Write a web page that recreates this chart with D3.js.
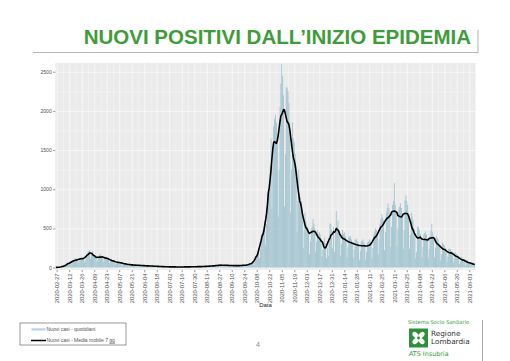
<!DOCTYPE html>
<meta charset="utf-8">
<style>
body { margin: 0; background: #fff; }
svg { display: block; font-family: "Liberation Sans", Arial, sans-serif; }
.panel { fill: #ebebeb; }
.grid .domain, .axis .domain { display: none; }
.grid--major line { stroke: #fff; stroke-width: .6; }
.grid--minor line { stroke: #fff; stroke-width: .3; }
.bar { fill: #9ac0cd; }
.ma { fill: none; stroke: #000; stroke-width: 1.6; stroke-linejoin: round; }
.axis text { fill: #4d4d4d; font-size: 5px; }
.axis line { stroke: #333; stroke-width: .5; }
.title { fill: #3f9c3a; font-size: 20.5px; font-weight: bold; }
.legend text { fill: #555; font-size: 5px; }
.logo text { font-family: "DejaVu Sans", sans-serif; }
</style>
<svg width="510" height="361"></svg>
<script src="https://d3js.org/d3.v7.min.js"></script>
<script>

// first day of the series (Wednesday 2020-02-26), one value per day
var startDate = new Date(Date.UTC(2020, 1, 26));

// daily new positives, one row per week (Wed..Tue)
var dailyCases = [
  0, 1, 3, 2, 1, 4, 6,
  10, 18, 22, 30, 12, 25, 40,
  55, 70, 78, 82, 35, 60, 85,
  105, 118, 110, 112, 55, 80, 120,
  125, 140, 130, 128, 62, 90, 135,
  175, 200, 215, 225, 110, 165, 210,
  175, 160, 150, 130, 70, 95, 140,
  160, 175, 150, 140, 70, 105, 150,
  135, 140, 120, 115, 55, 80, 115,
  100, 95, 85, 80, 40, 55, 85,
  75, 72, 65, 60, 30, 45, 68,
  55, 50, 45, 42, 20, 30, 48,
  40, 38, 35, 32, 15, 24, 38,
  34, 32, 30, 28, 12, 20, 33,
  28, 26, 25, 22, 10, 16, 28,
  22, 24, 20, 18, 8, 13, 22,
  18, 17, 15, 14, 6, 10, 17,
  13, 12, 11, 10, 4, 7, 12,
  10, 10, 9, 8, 3, 6, 10,
  9, 8, 8, 7, 3, 5, 9,
  8, 9, 8, 7, 3, 5, 9,
  10, 9, 9, 8, 4, 6, 10,
  12, 12, 11, 10, 5, 8, 12,
  15, 14, 13, 12, 6, 9, 15,
  19, 20, 18, 16, 7, 12, 20,
  26, 28, 25, 22, 10, 16, 27,
  36, 38, 34, 30, 14, 22, 36,
  33, 35, 32, 28, 13, 20, 34,
  28, 30, 27, 25, 11, 18, 29,
  28, 29, 27, 25, 11, 18, 30,
  34, 36, 33, 32, 14, 24, 40,
  48, 55, 62, 68, 30, 55, 100,
  130, 165, 200, 245, 120, 240, 420,
  430, 470, 520, 600, 280, 560, 950,
  900, 1050, 1300, 1650, 750, 1300, 1800,
  1900, 1950, 1850, 1700, 650, 1250, 2050,
  2350, 2600, 2450, 2200, 780, 1450, 2300,
  2300, 2250, 2100, 1850, 700, 1250, 1850,
  1650, 1600, 1450, 1300, 450, 850, 1250,
  950, 900, 850, 700, 250, 480, 700,
  600, 560, 520, 450, 170, 330, 500,
  520, 620, 560, 500, 200, 330, 480,
  430, 450, 420, 370, 140, 230, 330,
  380, 300, 120, 250, 150, 380, 560,
  560, 480, 250, 520, 200, 450, 720,
  520, 600, 480, 420, 150, 300, 480,
  430, 450, 400, 360, 130, 260, 400,
  380, 400, 360, 320, 120, 230, 360,
  350, 370, 330, 290, 100, 210, 330,
  340, 360, 320, 290, 100, 200, 320,
  330, 360, 340, 320, 120, 250, 420,
  460, 500, 480, 450, 170, 360, 560,
  620, 680, 640, 600, 220, 450, 700,
  760, 820, 760, 700, 260, 520, 800,
  850, 1080, 800, 720, 270, 500, 750,
  780, 820, 760, 690, 240, 480, 860,
  920, 850, 800, 680, 240, 420, 700,
  650, 600, 500, 380, 120, 200, 520,
  520, 480, 430, 380, 130, 260, 420,
  440, 460, 420, 380, 120, 240, 400,
  470, 560, 450, 400, 130, 250, 400,
  380, 360, 310, 280, 90, 170, 320,
  300, 280, 250, 220, 70, 140, 240,
  240, 230, 210, 190, 60, 120, 200,
  180, 170, 150, 130, 40, 80, 140,
  120, 115, 100, 90, 30, 55, 95,
  75, 70, 62, 55, 18, 35, 60,
  45
];

var tickLabels = [
  "2020-02-27", "2020-03-12", "2020-03-26", "2020-04-09", "2020-04-23", "2020-05-07",
  "2020-05-21", "2020-06-04", "2020-06-18", "2020-07-02", "2020-07-16", "2020-07-30",
  "2020-08-13", "2020-08-27", "2020-09-10", "2020-09-24", "2020-10-08", "2020-10-22",
  "2020-11-05", "2020-11-19", "2020-12-03", "2020-12-17", "2020-12-31", "2021-01-14",
  "2021-01-28", "2021-02-11", "2021-02-25", "2021-03-11", "2021-03-25", "2021-04-08",
  "2021-04-22", "2021-05-06", "2021-05-20", "2021-06-03"
];

var yTicks = [0, 500, 1000, 1500, 2000, 2500];
var yMinor = [250, 750, 1250, 1750, 2250];

var titleText = "NUOVI POSITIVI DALL\u2019INIZIO EPIDEMIA";
var legendLabels = ["Nuovi casi - quotidiani", "Nuovi casi - Media mobile 7 "];

var svg = d3.select("svg"),
    panel = {left: 55.35, right: 475.6, top: 63, bottom: 270};

var parse = d3.utcParse("%Y-%m-%d");

var data = dailyCases.map(function(v, i) {
  return {date: d3.utcDay.offset(startDate, i), value: v};
});

// centred 7 day moving average
data.forEach(function(d, i) {
  d.ma = d3.mean(data.slice(Math.max(0, i - 3), i + 4), function(e) { return e.value; });
});

var x = d3.scaleUtc()
    .domain([new Date(Date.UTC(2020, 1, 25, 12)), new Date(Date.UTC(2021, 5, 10))])
    .range([panel.left, panel.right]);

var y = d3.scaleLinear()
    .domain([-32, 2612])
    .range([panel.bottom, panel.top]);

var tickDates = tickLabels.map(parse);
var minorDates = tickDates.map(function(d) { return d3.utcDay.offset(d, -7); })
    .concat([d3.utcDay.offset(tickDates[tickDates.length - 1], 7)]);

var ph = panel.bottom - panel.top,
    pw = panel.right - panel.left;

svg.append("rect")
    .attr("class", "panel")
    .attr("x", panel.left).attr("y", panel.top)
    .attr("width", pw).attr("height", ph);

svg.append("clipPath").attr("id", "clip")
  .append("rect")
    .attr("x", panel.left).attr("y", panel.top)
    .attr("width", pw).attr("height", ph);

// grid
svg.append("g")
    .attr("class", "grid grid--minor")
    .attr("transform", "translate(0," + panel.bottom + ")")
    .call(d3.axisBottom(x).tickValues(minorDates.filter(function(d) { return x(d) > panel.left && x(d) < panel.right; })).tickSize(-ph).tickFormat(""));

svg.append("g")
    .attr("class", "grid grid--minor")
    .attr("transform", "translate(" + panel.left + ",0)")
    .call(d3.axisLeft(y).tickValues(yMinor).tickSize(-pw).tickFormat(""));

svg.append("g")
    .attr("class", "grid grid--major")
    .attr("transform", "translate(0," + panel.bottom + ")")
    .call(d3.axisBottom(x).tickValues(tickDates).tickSize(-ph).tickFormat(""));

svg.append("g")
    .attr("class", "grid grid--major")
    .attr("transform", "translate(" + panel.left + ",0)")
    .call(d3.axisLeft(y).tickValues(yTicks).tickSize(-pw).tickFormat(""));

var bw = (x(d3.utcDay.offset(startDate, 1)) - x(startDate)) * 0.9;

var plot = svg.append("g").attr("clip-path", "url(#clip)");

plot.selectAll(".bar")
  .data(data)
  .enter().append("rect")
    .attr("class", "bar")
    .attr("x", function(d) { return x(d.date) - bw / 2; })
    .attr("y", function(d) { return y(d.value); })
    .attr("width", bw)
    .attr("height", function(d) { return y(0) - y(d.value); });

plot.append("path")
    .datum(data)
    .attr("class", "ma")
    .attr("d", d3.line()
      .x(function(d) { return x(d.date); })
      .y(function(d) { return y(d.ma); }));

// axes
svg.append("g")
    .attr("class", "axis axis--y")
    .attr("transform", "translate(" + panel.left + ",0)")
    .call(d3.axisLeft(y).tickValues(yTicks).tickSize(2.2).tickPadding(1.5).tickFormat(d3.format("d")));

svg.append("g")
    .attr("class", "axis axis--x")
    .attr("transform", "translate(0," + panel.bottom + ")")
    .call(d3.axisBottom(x).tickValues(tickDates).tickSize(2.2).tickFormat(d3.utcFormat("%Y-%m-%d")))
  .selectAll("text")
    .attr("transform", "rotate(-90)")
    .attr("text-anchor", "end")
    .attr("x", -3.5)
    .attr("y", 0)
    .attr("dy", "0.35em")
    .style("font-size", "5.8px");

svg.append("text")
    .attr("x", (panel.left + panel.right) / 2)
    .attr("y", 307)
    .attr("text-anchor", "middle")
    .style("font-size", "6px")
    .style("fill", "#222")
    .text("Data");

// title
svg.append("text")
    .attr("class", "title")
    .attr("x", 471)
    .attr("y", 44)
    .attr("text-anchor", "end")
    .text(titleText);

svg.append("line")
    .attr("x1", 33).attr("x2", 478).attr("y1", 52.5).attr("y2", 52.5)
    .style("stroke", "#b5b5b5").style("stroke-width", 1);
svg.append("line")
    .attr("x1", 478).attr("x2", 478).attr("y1", 30).attr("y2", 53)
    .style("stroke", "#b5b5b5").style("stroke-width", 1);

// legend
var legend = svg.append("g").attr("class", "legend");
legend.append("rect")
    .attr("x", 20).attr("y", 323).attr("width", 106).attr("height", 22)
    .style("fill", "#fff").style("stroke", "#555").style("stroke-width", .6);
legend.append("rect")
    .attr("x", 31.5).attr("y", 328.3).attr("width", 14).attr("height", 2.2)
    .style("fill", "#b8d3e6");
legend.append("text").attr("x", 46.5).attr("y", 331).text(legendLabels[0]);
legend.append("line")
    .attr("x1", 31).attr("x2", 46).attr("y1", 340.5).attr("y2", 340.5)
    .style("stroke", "#000").style("stroke-width", 1.5);
var lt = legend.append("text").attr("x", 46.5).attr("y", 342).text(legendLabels[1]);
lt.append("tspan").style("text-decoration", "underline").text("gg");

// page number
svg.append("text")
    .attr("x", 258).attr("y", 347)
    .attr("text-anchor", "middle")
    .style("font-size", "7px").style("fill", "#888")
    .text("4");

// logo
var logo = svg.append("g").attr("class", "logo");
logo.append("text").attr("x", 408).attr("y", 324)
    .style("font-size", "5.2px").style("fill", "#3a9a3a")
    .text("Sistema Socio Sanitario");
logo.append("rect").attr("x", 409).attr("y", 328.5).attr("width", 19).attr("height", 19)
    .style("fill", "#2f8f3c");
var rc = logo.append("g").attr("transform", "translate(418.5,338)");
[45, 135, 225, 315].forEach(function(a) {
  rc.append("ellipse")
      .attr("cx", 4.2).attr("cy", 0).attr("rx", 3.6).attr("ry", 2.4)
      .attr("transform", "rotate(" + a + ")")
      .style("fill", "#fff");
});
rc.append("circle").attr("r", 1.4).style("fill", "#2f8f3c");
logo.append("text").attr("x", 431).attr("y", 336.3)
    .style("font-size", "7.3px").style("fill", "#333").text("Regione");
logo.append("text").attr("x", 431).attr("y", 344.3)
    .style("font-size", "7.3px").style("fill", "#333").text("Lombardia");
logo.append("text").attr("x", 409).attr("y", 355.5)
    .style("font-size", "6.4px").style("fill", "#3a9a3a").text("ATS Insubria");
svg.append("line")
    .attr("x1", 482.5).attr("x2", 482.5).attr("y1", 320).attr("y2", 361)
    .style("stroke", "#aaa").style("stroke-width", 1);

</script>
